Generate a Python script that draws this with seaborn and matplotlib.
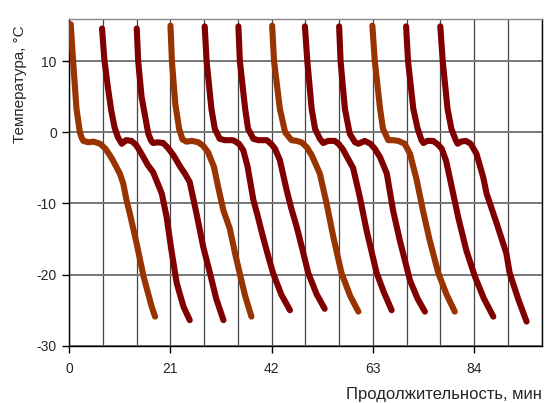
import numpy as np
import pandas as pd
import seaborn as sns
import matplotlib.pyplot as plt
from matplotlib.ticker import MultipleLocator

# время (мин) и температура (°C) для каждого цикла охлаждения
t1 = [0.3, 0.8, 1.5, 2.2, 2.6, 2.9, 4.0, 5.0, 6.4, 7.5, 8.4, 9.1, 10.5, 11.2, 11.9, 12.6, 14.0, 15.4, 16.3, 17.1, 17.8]
T1 = [15.2, 10, 3.3, 0, -0.8, -1.2, -1.4, -1.3, -1.6, -2.3, -3.2, -4.0, -5.8, -7.2, -9.6, -11.5, -15.7, -20.2, -22.5, -24.5, -25.9]
t2 = [6.8, 7.3, 8.0, 8.7, 9.4, 10.1, 10.9, 11.8, 12.9, 13.9, 14.8, 16.3, 17.4, 19.2, 20.2, 21.2, 22.3, 23.7, 25.0]
T2 = [14.6, 10.1, 6.4, 3.1, 0.7, -0.7, -1.6, -1.1, -1.2, -1.8, -2.8, -4.6, -5.6, -8.6, -11.9, -16.6, -21.2, -24.5, -26.4]
t3 = [14.0, 14.3, 15.0, 15.7, 16.4, 17.0, 17.4, 18.3, 19.5, 20.5, 21.6, 23.0, 24.0, 25.0, 26.4, 27.8, 29.2, 30.5, 32.0]
T3 = [14.6, 10, 5.0, 2.4, -0.2, -1.2, -1.5, -1.4, -1.5, -2.2, -3.2, -4.8, -5.8, -7.0, -11.4, -16.1, -19.8, -23.4, -26.4]
t4 = [21.0, 21.3, 22.0, 22.8, 23.5, 24.3, 25.5, 26.8, 27.8, 28.8, 30.0, 31.0, 32.0, 33.3, 34.4, 35.4, 36.5, 37.8]
T4 = [15.0, 10, 4.0, 0.5, -1.0, -1.3, -1.2, -1.4, -1.9, -2.8, -4.8, -8.0, -11.0, -13.5, -17.0, -19.9, -23.0, -25.9]
t5 = [28.1, 28.5, 29.5, 30.2, 31.2, 32.3, 34.0, 35.2, 36.1, 37.0, 38.2, 39.0, 40.2, 41.2, 42.3, 44.0, 45.8]
T5 = [14.9, 10, 3.3, 0.5, -0.9, -1.1, -1.1, -1.6, -2.5, -4.8, -9.5, -11.5, -14.7, -17.2, -19.8, -22.8, -25.0]
t6 = [35.1, 35.4, 36.5, 37.1, 38.2, 39.2, 41.0, 42.0, 42.7, 43.7, 45.1, 46.0, 47.2, 48.4, 49.6, 51.3, 53.0]
T6 = [14.9, 10, 3.3, 0.5, -0.9, -1.1, -1.1, -1.7, -2.3, -3.9, -8.1, -10.5, -13.3, -16.5, -19.8, -22.7, -24.8]
t7 = [42.1, 42.5, 43.7, 44.8, 46.1, 47.2, 48.2, 49.3, 50.3, 52.0, 53.4, 54.8, 56.5, 58.3, 60.0]
T7 = [15.0, 10, 3.3, 0, -1.1, -1.2, -1.4, -2.1, -3.2, -5.8, -10, -14.7, -19.8, -23.0, -25.2]
t8 = [48.9, 49.4, 50.3, 51.0, 52.0, 52.7, 53.7, 55.1, 56.0, 56.8, 58.0, 58.9, 60.3, 61.7, 63.8, 65.3, 66.9]
T8 = [14.9, 10, 3.3, 0.5, -0.9, -1.5, -1.2, -1.2, -1.7, -2.4, -3.9, -5.0, -9.1, -13.8, -19.8, -22.5, -25.0]
t9 = [56.0, 56.3, 57.2, 58.2, 59.3, 60.0, 61.3, 62.5, 63.4, 64.5, 65.9, 67.2, 68.6, 70.7, 72.3, 73.8]
T9 = [14.9, 10, 3.3, -0.2, -1.4, -1.6, -1.2, -1.6, -2.3, -3.5, -5.8, -11.0, -15.2, -20.8, -23.4, -25.2]
t10 = [62.9, 63.4, 64.5, 65.1, 66.2, 67.2, 68.3, 69.6, 70.7, 72.1, 73.4, 74.8, 76.6, 78.3, 80.0]
T10 = [15.0, 10, 3.3, 0.5, -1.1, -1.1, -1.2, -1.6, -3.0, -6.7, -11.0, -15.2, -19.8, -22.8, -25.2]
t11 = [69.9, 70.3, 71.4, 72.3, 73.1, 73.5, 74.3, 75.5, 76.5, 77.3, 78.2, 79.0, 80.7, 82.4, 84.2, 86.0, 88.0]
T11 = [14.9, 10, 3.3, 0.5, -1.1, -1.5, -1.2, -1.2, -1.7, -2.3, -4.0, -6.5, -11.9, -16.6, -20.3, -23.3, -25.9]
t12 = [77.0, 77.5, 78.5, 79.3, 80.2, 80.6, 81.3, 82.3, 83.3, 84.5, 85.9, 86.6, 88.7, 90.7, 91.4, 93.2, 94.9]
T12 = [14.9, 10, 3.3, 0.5, -1.1, -1.6, -1.3, -1.2, -1.6, -3.0, -6.3, -8.6, -12.8, -17.0, -19.8, -23.5, -26.6]

times = [t1, t2, t3, t4, t5, t6, t7, t8, t9, t10, t11, t12]
temps = [T1, T2, T3, T4, T5, T6, T7, T8, T9, T10, T11, T12]

orange = '#993300'
red = '#800000'
colors = [orange, red, red] * 4

rows = []
for i, (tt, TT) in enumerate(zip(times, temps)):
    for a, b in zip(tt, TT):
        rows.append({'cycle': i, 'time': a, 'temp': b})
df = pd.DataFrame(rows)

sns.set_style('white')
plt.rcParams['font.family'] = ['Liberation Sans', 'DejaVu Sans']
plt.rcParams['axes.unicode_minus'] = False

fig = plt.figure(figsize=(5.52, 4.03), dpi=100)
ax = fig.add_axes([0.1255, 0.142, 0.8555, 0.812])

sns.lineplot(data=df, x='time', y='temp', hue='cycle', palette=colors,
             sort=False, estimator=None, legend=False, linewidth=4.4,
             solid_capstyle='round', solid_joinstyle='round', ax=ax, zorder=3)

ax.set_xlim(0, 98)
ax.set_ylim(-30, 16)
ax.xaxis.set_major_locator(MultipleLocator(21))
ax.xaxis.set_minor_locator(MultipleLocator(7))
ax.yaxis.set_major_locator(MultipleLocator(10))
ax.grid(True, which='both', axis='x', color='#444444', linewidth=0.9)
ax.grid(True, which='major', axis='y', color='#777777', linewidth=1.4)
ax.set_axisbelow(True)

for s in ax.spines.values():
    s.set_color('black')
    s.set_linewidth(1.0)
ax.spines['top'].set_color('#888888')

ax.tick_params(axis='both', which='major', direction='out', length=5, width=1,
               color='black', labelsize=10, bottom=True, left=True)
ax.tick_params(axis='x', which='major', pad=7)
ax.tick_params(axis='y', which='major', pad=4)
ax.tick_params(axis='x', which='minor', length=0)

ax.set_xlabel('Продолжительность, мин', fontsize=12)
ax.xaxis.set_label_coords(1.0, -0.125)
ax.xaxis.label.set_horizontalalignment('right')
ax.set_ylabel('Температура, °С', fontsize=11)
ax.yaxis.set_label_coords(-0.09, 0.8)

fig.savefig('out.png', dpi=100)
